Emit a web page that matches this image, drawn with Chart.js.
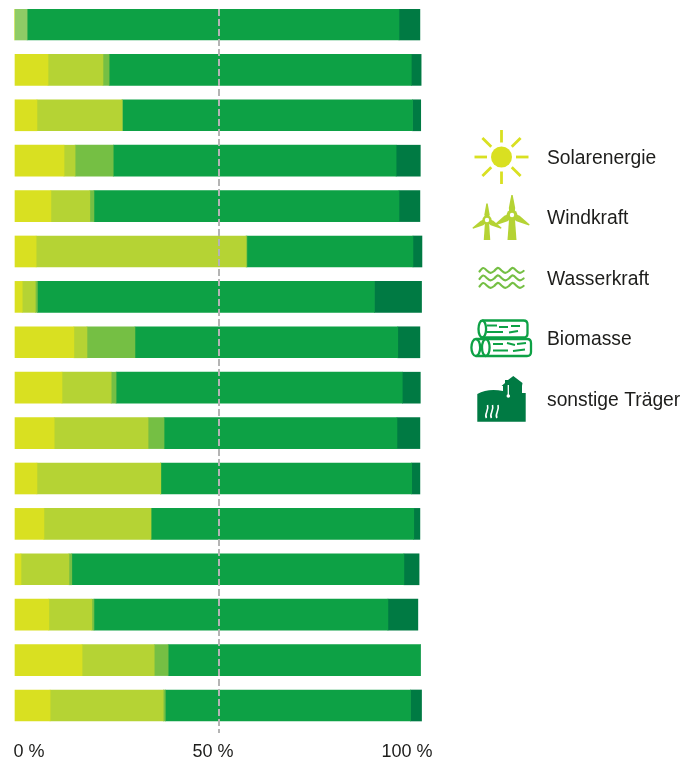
<!DOCTYPE html>
<html><head><meta charset="utf-8">
<style>html,body{margin:0;padding:0;background:#fff}canvas{display:block}</style>
<script src="https://cdn.jsdelivr.net/npm/chart.js@4"></script>
</head><body><canvas id="c" width="681" height="758"></canvas>
<script>
const rows    = [0,1,2,3,4,5,6,7,8,9,10,11,12,13,14,15];
const solar   = [0,8.3,5.6,12.2,9.0,5.4,2.0,14.6,11.7,9.8,5.6,7.3,1.7,8.5,16.6,8.8];
const wind    = [0,13.4,20.7,2.7,9.5,51.2,3.2,3.2,12.0,22.9,30.2,26.1,11.7,10.5,17.6,27.6];
const hydro   = [3.2,1.5,0.2,9.3,1.0,0.2,0.5,11.7,1.2,3.9,0,0,0.7,0.5,3.4,0.5];
const biomass = [90.7,73.7,70.7,69.0,74.4,40.5,82.2,64.1,69.8,56.8,61.2,64.1,81.0,71.7,61.5,59.8];
const other   = [5.1,2.4,2.0,5.9,5.1,2.2,11.5,5.4,4.4,5.6,2.0,1.5,3.7,7.3,0,2.7];
const tickValues = [0,50,100];
const tickOffsets = [15,-6,-17];
const seriesNames = ['Solarenergie','Windkraft','Wasserkraft','Biomasse','sonstige Träger'];
const C = {solar:'#d9e021',wind:'#b5d334',hydro:'#75bf44',hydroLight:'#8fcb66',bio:'#0da145',other:'#007a43',text:'#1d1d1b',dash:'#b4b4b4'};
const TICK_FONT = '18px "Liberation Sans", Arial, sans-serif';
const LEGEND_FONT = '19.3px "Liberation Sans", Arial, sans-serif';
const toPts = a => a.map((x,i)=>({x,y:rows[i]}));

function sun(c){
  c.fillStyle=c.strokeStyle=C.solar;
  c.beginPath();c.arc(501.5,157,10.5,0,7);c.fill();
  c.lineWidth=2.8;
  for(let i=0;i<8;i++){const a=i*Math.PI/4,cs=Math.cos(a),s=Math.sin(a);
    c.beginPath();c.moveTo(501.5+cs*14.5,157+s*14.5);c.lineTo(501.5+cs*27,157+s*27);c.stroke();}
}
function turbine(c,x,y,L,towerW,bottom,w){
  c.fillStyle=C.wind;
  c.beginPath();c.moveTo(x-towerW*0.32,y+3);c.lineTo(x+towerW*0.32,y+3);c.lineTo(x+towerW/2,bottom);c.lineTo(x-towerW/2,bottom);c.closePath();c.fill();
  for(const deg of [-90,30,150]){
    c.save();c.translate(x,y);c.rotate(deg*Math.PI/180);
    c.beginPath();c.moveTo(0,-w*0.7);c.lineTo(L*0.35,-w);c.lineTo(L,-0.7);c.lineTo(L,0.7);c.lineTo(L*0.35,w);c.lineTo(0,w*0.7);c.closePath();c.fill();
    c.restore();
  }
  c.beginPath();c.arc(x,y,L*0.22+1,0,7);c.fill();
  c.fillStyle='#fff';c.beginPath();c.arc(x,y,2.2,0,7);c.fill();
}
function windIcon(c){turbine(c,487,220,16.5,6.5,240,2.6);turbine(c,512,215,20,9,240,3.2);}
function water(c){
  c.strokeStyle=C.hydro;c.lineWidth=2.2;c.lineCap='round';
  for(const y of [270.5,278,285.5]){
    c.beginPath();c.moveTo(479.5,y+1);
    for(let i=0;i<3;i++){const x=479.5+i*14.7;
      c.bezierCurveTo(x+3.5,y-3.5,x+4,y-3.5,x+7.3,y);
      c.bezierCurveTo(x+10.5,y+3,x+11.5,y+3,x+14.7,y+0.5);}
    c.stroke();
  }
  c.lineCap='butt';
}
function logs(c){
  c.strokeStyle=C.bio;c.lineWidth=2.3;
  const log=(x0,x1,y0,y1,rx)=>{const cy=(y0+y1)/2,ry=(y1-y0)/2;
    c.beginPath();c.moveTo(x0+rx,y0);c.lineTo(x1-4,y0);c.quadraticCurveTo(x1,y0,x1,y0+4);c.lineTo(x1,y1-4);c.quadraticCurveTo(x1,y1,x1-4,y1);c.lineTo(x0+rx,y1);c.stroke();
    c.beginPath();c.ellipse(x0+rx,cy,rx,ry,0,0,7);c.stroke();};
  log(478.5,527.5,320.5,337.5,3.8);
  log(482,531,339,356,3.8);
  c.beginPath();c.ellipse(475.8,347.5,4.4,8.5,0,0,7);c.stroke();
  c.beginPath();c.moveTo(476,339);c.lineTo(486,339);c.moveTo(476,356);c.lineTo(486,356);c.stroke();
  c.lineWidth=1.9;
  const segs=[[487,325.5,497,325.5],[499,327,508,327],[511,326,520,326],[487,332,503,332],[509,332.5,518,331],[493,344,503,344],[507,343,515,345],[517,344,526,343],[493,350.5,508,350.5],[513,351,525,349.5]];
  c.beginPath();for(const s of segs){c.moveTo(s[0],s[1]);c.lineTo(s[2],s[3]);}c.stroke();
}
function plant(c){
  c.fillStyle=C.other;
  c.beginPath();c.moveTo(477.3,421.7);c.lineTo(477.3,394);c.quadraticCurveTo(488,388,503,391);
  c.lineTo(503,386);c.lineTo(501.5,386);c.lineTo(505,383);c.lineTo(505,380);c.lineTo(508,380);c.lineTo(513.3,376);c.lineTo(522.5,383);c.lineTo(522,386);c.lineTo(522,393);c.lineTo(525.7,393);c.lineTo(525.7,421.7);c.closePath();c.fill();
  c.strokeStyle='#fff';c.fillStyle='#fff';c.lineWidth=1.3;
  c.beginPath();c.moveTo(508.3,385);c.lineTo(508.3,396);c.stroke();
  c.beginPath();c.arc(508.3,396,1.8,0,7);c.fill();
  c.lineWidth=1.6;
  for(const x of [486.5,491.5,497]){
    c.beginPath();c.moveTo(x,418);c.bezierCurveTo(x-3,414,x+3,411,x+1,405);c.stroke();
  }
}
const icons=[sun,windIcon,water,logs,plant];
const legendY=[159,219,280,340,401];

const decor={id:'decor',
  afterDraw(chart){
    const c=chart.ctx,sx=chart.scales.x;
    c.save();
    c.fillStyle=C.text;c.textBaseline='middle';c.textAlign='center';
    c.font=TICK_FONT;
    tickValues.forEach((v,i)=>c.fillText(v+' %',sx.getPixelForValue(v)+tickOffsets[i],752));
    c.textAlign='left';
    c.font=LEGEND_FONT;
    chart.data.datasets.forEach((d,i)=>c.fillText(d.label,547,legendY[i]));
    icons.forEach(f=>{c.save();f(c);c.restore();});
    c.restore();
  }};

new Chart(document.getElementById('c'),{
  type:'bar',
  data:{datasets:[
    {label:seriesNames[0],data:toPts(solar),backgroundColor:C.solar},
    {label:seriesNames[1],data:toPts(wind),backgroundColor:C.wind},
    {label:seriesNames[2],data:toPts(hydro),backgroundColor:ctx=>ctx.dataIndex===0?C.hydroLight:C.hydro},
    {label:seriesNames[3],data:toPts(biomass),backgroundColor:C.bio},
    {label:seriesNames[4],data:toPts(other),backgroundColor:C.other}
  ]},
  options:{
    indexAxis:'y',responsive:false,animation:false,devicePixelRatio:1,
    barThickness:31,
    layout:{padding:{left:14,right:257,top:9,bottom:25}},
    plugins:{legend:{display:false},tooltip:{enabled:false},title:{display:false}},
    scales:{
      x:{type:'linear',position:'bottom',stacked:true,min:0,max:100,
        afterBuildTicks:a=>{a.ticks=tickValues.map(value=>({value}));},
        ticks:{display:false},border:{display:false,dash:[7,3]},
        grid:{z:1,drawTicks:false,lineWidth:2,tickLength:0,
          color:ctx=>ctx.tick&&ctx.tick.value===50?C.dash:'rgba(0,0,0,0)'}},
      y:{type:'linear',reverse:true,stacked:true,display:false,offset:false,min:-0.341,max:15.606,grid:{display:false}}
    }
  },
  plugins:[decor]
});
</script></body></html>
